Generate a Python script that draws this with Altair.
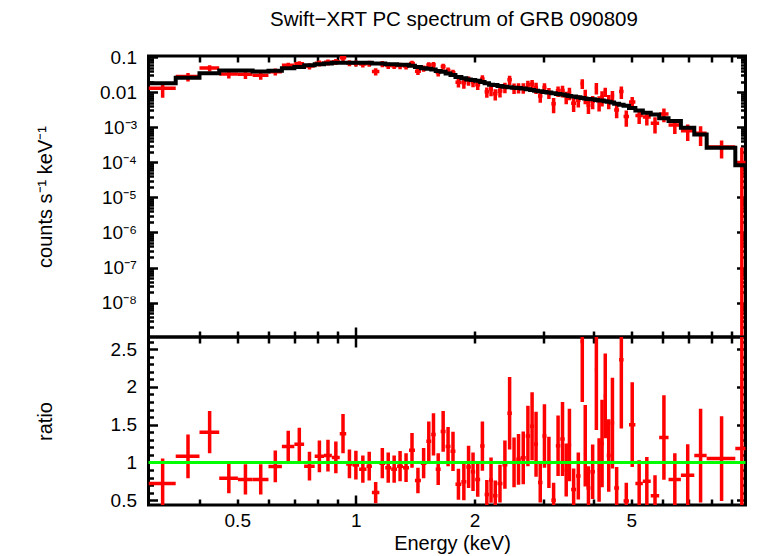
import json
import altair as alt
import pandas as pd

# ---------------- data ----------------
# bin edges (keV), contiguous bins
edges = [0.2977, 0.349, 0.401, 0.450, 0.502, 0.547, 0.600, 0.649, 0.698, 0.739,
         0.786, 0.830, 0.869, 0.910, 0.945, 0.981, 1.019, 1.064, 1.098, 1.147,
         1.187, 1.229, 1.272, 1.317, 1.364, 1.412, 1.462, 1.509, 1.553, 1.594,
         1.641, 1.689, 1.738, 1.789, 1.852, 1.906, 1.957, 2.008, 2.067, 2.121,
         2.177, 2.228, 2.287, 2.354, 2.423, 2.487, 2.552, 2.620, 2.697, 2.767,
         2.832, 2.898, 2.974, 3.044, 3.133, 3.216, 3.301, 3.387, 3.447, 3.517,
         3.620, 3.715, 3.792, 3.846, 3.936, 4.040, 4.111, 4.171, 4.255, 4.330,
         4.431, 4.522, 4.654, 4.777, 4.931, 5.119, 5.347, 5.599, 5.882, 6.213,
         6.678, 7.221, 7.763, 9.177, 9.890]

# folded model (counts s^-1 keV^-1) per bin
model = [0.0178, 0.0256, 0.0347, 0.0414, 0.0414, 0.039, 0.0405, 0.048, 0.052, 0.058,
         0.062, 0.065, 0.069, 0.069, 0.069, 0.069, 0.069, 0.069, 0.065, 0.065,
         0.062, 0.062, 0.060, 0.060, 0.056, 0.052, 0.048, 0.046, 0.044, 0.040,
         0.038, 0.034, 0.031, 0.027, 0.025, 0.023, 0.022, 0.021, 0.0195, 0.0178,
         0.0163, 0.016, 0.015, 0.0143, 0.0137, 0.0133, 0.013, 0.0126, 0.0121, 0.0115,
         0.011, 0.0106, 0.0101, 0.0097, 0.0093, 0.0089, 0.0085, 0.0082, 0.0078, 0.0075,
         0.0072, 0.0068, 0.0066, 0.0064, 0.0063, 0.0060, 0.0058, 0.0058, 0.0055, 0.0053,
         0.0051, 0.0047, 0.0044, 0.0041, 0.0035, 0.0030, 0.0026, 0.0023, 0.0018, 0.0015,
         0.00096, 0.00062, 0.00026, 0.000083]

# data / model ratio per bin and its 1-sigma error
ratio = [0.72, 1.08, 1.40, 0.79, 0.775, 0.775, 0.947, 1.21, 1.24, 0.95,
         1.08, 1.09, 1.066, 1.38, 0.98, 0.965, 0.91, 0.95, 0.60, 0.99,
         0.93, 0.91, 0.95, 0.93, 1.16, 0.76, 0.99, 1.28, 1.37, 0.91,
         1.41, 1.21, 1.146, 0.71, 0.743, 0.94, 0.876, 0.775, 1.216, 0.576,
         0.766, 0.56, 0.72, 0.97, 1.65, 1.0, 1.04, 1.06, 1.35, 1.48,
         1.24, 0.735, 1.35, 1.0, 0.50, 1.22, 1.31, 0.9, 1.23, 0.64,
         0.82, 2.6, 1.22, 0.66, 0.876, 2.23, 0.9, 1.25, 1.88, 1.09,
         1.52, 0.66, 2.36, 0.49, 1.50, 0.72, 0.75, 0.56, 1.33, 0.775,
         0.83, 1.09, 1.05, 1.185]
ratio_err = [0.33, 0.29, 0.28, 0.20, 0.20, 0.20, 0.21, 0.21, 0.22, 0.19,
             0.21, 0.21, 0.21, 0.26, 0.19, 0.19, 0.18, 0.19, 0.14, 0.20,
             0.20, 0.18, 0.20, 0.19, 0.23, 0.17, 0.20, 0.26, 0.28, 0.21,
             0.27, 0.26, 0.26, 0.205, 0.245, 0.28, 0.255, 0.23, 0.325, 0.19,
             0.30, 0.20, 0.25, 0.32, 0.48, 0.33, 0.335, 0.35, 0.40, 0.45,
             0.43, 0.265, 0.42, 0.34, 0.23, 0.40, 0.49, 0.35, 0.48, 0.28,
             0.31, 0.80, 0.54, 0.29, 0.36, 0.80, 0.42, 0.58, 0.56, 0.48,
             0.60, 0.28, 0.91, 0.24, 0.56, 0.31, 0.32, 0.27, 0.56, 0.345,
             0.41, 0.62, 0.56, 2.0]

reference_ratio = [1.0]

x_label_values = [0.5, 1, 2, 5]
rate_label_values = [0.1, 0.01, 1e-3, 1e-4, 1e-5, 1e-6, 1e-7, 1e-8]
rate_label_text = ["0.1", "0.01", "10\u207b\u00b3", "10\u207b\u2074", "10\u207b\u2075",
                   "10\u207b\u2076", "10\u207b\u2077", "10\u207b\u2078"]
ratio_label_values = [0.5, 1, 1.5, 2, 2.5]

TITLE = "Swift\u2212XRT PC spectrum of GRB 090809"
X_TITLE = "Energy (keV)"
Y_TOP_TITLE = "counts s\u207b\u00b9 keV\u207b\u00b9"
Y_BOT_TITLE = "ratio"

# ---------------- layout / style ----------------
W, H1, H2 = 597, 281, 168
FONT = "Liberation Sans"
E_DOMAIN = [0.2977, 9.74]
RATE_DOMAIN = [1.05e-9, 0.107]
RATIO_DOMAIN = [0.436, 2.66]

x_minor = [0.4, 0.5, 0.6, 0.7, 0.8, 0.9, 2, 3, 4, 5, 6, 7, 8, 9]
x_major = [1]
rate_major = [10.0 ** k for k in range(-8, 0)]
rate_minor = [m * 10.0 ** k for k in range(-9, -1) for m in range(2, 10)]
ratio_major = [0.5, 1, 1.5, 2, 2.5]
ratio_minor = [round(0.1 * i, 1) for i in range(5, 27) if i % 5]

# ---------------- tables ----------------
bins = pd.DataFrame({
    "lo": edges[:-1],
    "hi": edges[1:],
    "model": model,
    "ratio": ratio,
    "rerr": ratio_err,
})
bins["ctr"] = (bins["lo"] + bins["hi"]) / 2
bins["rate"] = bins["model"] * bins["ratio"]
bins["rate_lo"] = (bins["model"] * (bins["ratio"] - bins["rerr"])).clip(lower=1e-14)
bins["rate_hi"] = bins["model"] * (bins["ratio"] + bins["rerr"])
bins["r_lo"] = bins["ratio"] - bins["rerr"]
bins["r_hi"] = bins["ratio"] + bins["rerr"]

step = pd.DataFrame({"e": edges, "m": model + [model[-1]]})
one = pd.DataFrame({"one": reference_ratio})

xs = alt.Scale(type="log", domain=E_DOMAIN, nice=False)
ys_top = alt.Scale(type="log", domain=RATE_DOMAIN, nice=False)
ys_bot = alt.Scale(type="linear", domain=RATIO_DOMAIN, nice=False, zero=False)


def tick_axis(orient, offset, values, size):
    return alt.Axis(orient=orient, offset=offset, values=values, tickSize=size,
                    tickWidth=2.5, tickColor="black", ticks=True, labels=False,
                    domain=False, grid=False, title=None)


rate_expr = json.dumps(rate_label_text, ensure_ascii=False) + \
    "[-1 - round(log(datum.value) / LN10)]"

y_top_labels = alt.Axis(orient="left", values=rate_label_values, labelExpr=rate_expr,
                        ticks=False, tickSize=0, domain=False, grid=False,
                        labelPadding=12, labelFontSize=19, title=Y_TOP_TITLE,
                        titleX=-103, titleY=H1 / 2, titleAngle=270,
                        titleAlign="center", titleBaseline="middle",
                        titleFontSize=20, titleFontWeight="normal")
y_bot_labels = alt.Axis(orient="left", values=ratio_label_values, format="~g",
                        ticks=False, tickSize=0, domain=False, grid=False,
                        labelPadding=12, labelFontSize=19, title=Y_BOT_TITLE,
                        titleX=-103, titleY=H2 / 2, titleAngle=270,
                        titleAlign="center", titleBaseline="middle",
                        titleFontSize=20, titleFontWeight="normal")
x_labels = alt.Axis(orient="bottom", values=x_label_values, format="~g",
                    ticks=False, tickSize=0, domain=False, grid=False,
                    labelPadding=6, labelFlush=False, labelFontSize=19,
                    title=X_TITLE, titleX=W / 2 + 5, titleY=44,
                    titleAlign="center", titleBaseline="alphabetic",
                    titleFontSize=20, titleFontWeight="normal")

RED = "#ff0000"

# ---------------- top panel ----------------
t_xerr = alt.Chart(bins).mark_rule(color=RED, strokeWidth=3.5, clip=True).encode(
    x=alt.X("lo:Q", scale=xs, axis=tick_axis("bottom", -H1, x_minor, 6)),
    x2="hi:Q",
    y=alt.Y("rate:Q", scale=ys_top, axis=y_top_labels),
)
t_yerr = alt.Chart(bins).mark_rule(color=RED, strokeWidth=3.5, clip=True).encode(
    x=alt.X("ctr:Q", scale=xs, axis=tick_axis("bottom", -H1, x_major, 10)),
    y=alt.Y("rate_lo:Q", scale=ys_top, axis=tick_axis("right", -W, rate_minor, 5)),
    y2="rate_hi:Q",
)
t_inv1 = alt.Chart(bins).mark_point(opacity=0).encode(
    x=alt.X("ctr:Q", scale=xs, axis=tick_axis("top", -H1, x_minor, 6)),
    y=alt.Y("rate:Q", scale=ys_top, axis=tick_axis("right", -W, rate_major, 9)),
)
t_inv2 = alt.Chart(bins).mark_point(opacity=0).encode(
    x=alt.X("ctr:Q", scale=xs, axis=tick_axis("top", -H1, x_major, 10)),
    y=alt.Y("rate:Q", scale=ys_top, axis=tick_axis("left", -W, rate_minor, 5)),
)
t_model = alt.Chart(step).mark_line(color="black", strokeWidth=4,
                                    interpolate="step-after", clip=True).encode(
    x=alt.X("e:Q", scale=xs, axis=None),
    y=alt.Y("m:Q", scale=ys_top, axis=tick_axis("left", -W, rate_major, 9)),
)

top = alt.layer(t_xerr, t_yerr, t_inv1, t_inv2, t_model).properties(
    width=W, height=H1,
    title=alt.TitleParams(text=TITLE, fontSize=20.5, font=FONT, fontWeight="normal",
                          anchor="middle", frame="group", baseline="alphabetic",
                          offset=2, dx=7, color="black"),
).resolve_axis(x="independent", y="independent")

# ---------------- ratio panel ----------------
b_xerr = alt.Chart(bins).mark_rule(color=RED, strokeWidth=3.5, clip=True).encode(
    x=alt.X("lo:Q", scale=xs, axis=x_labels),
    x2="hi:Q",
    y=alt.Y("ratio:Q", scale=ys_bot, axis=y_bot_labels),
)
b_yerr = alt.Chart(bins).mark_rule(color=RED, strokeWidth=3.5, clip=True).encode(
    x=alt.X("ctr:Q", scale=xs, axis=tick_axis("bottom", -H2, x_minor, 6)),
    y=alt.Y("r_lo:Q", scale=ys_bot, axis=tick_axis("right", -W, ratio_minor, 5)),
    y2="r_hi:Q",
)
b_inv1 = alt.Chart(bins).mark_point(opacity=0).encode(
    x=alt.X("ctr:Q", scale=xs, axis=tick_axis("bottom", -H2, x_major, 10)),
    y=alt.Y("ratio:Q", scale=ys_bot, axis=tick_axis("right", -W, ratio_major, 9)),
)
b_inv2 = alt.Chart(bins).mark_point(opacity=0).encode(
    x=alt.X("ctr:Q", scale=xs, axis=tick_axis("top", -H2, x_minor, 6)),
    y=alt.Y("ratio:Q", scale=ys_bot, axis=tick_axis("left", -W, ratio_minor, 5)),
)
b_inv3 = alt.Chart(bins).mark_point(opacity=0).encode(
    x=alt.X("ctr:Q", scale=xs, axis=tick_axis("top", -H2, x_major, 10)),
    y=alt.Y("ratio:Q", scale=ys_bot, axis=tick_axis("left", -W, ratio_major, 9)),
)
b_one = alt.Chart(one).mark_rule(color="#00ff00", strokeWidth=3).encode(
    y=alt.Y("one:Q", scale=ys_bot, axis=None),
)

bottom = alt.layer(b_xerr, b_yerr, b_inv1, b_inv2, b_inv3, b_one).properties(
    width=W, height=H2,
).resolve_axis(x="independent", y="independent")

chart = alt.vconcat(top, bottom, spacing=0, bounds="flush").resolve_scale(
    x="independent", y="independent"
).resolve_axis(
    x="independent", y="independent"
).properties(
    padding={"left": 25.5, "top": 0, "right": 0, "bottom": 0},
    background="white",
).configure(
    font=FONT,
).configure_view(
    stroke="black", strokeWidth=3,
).configure_axis(
    labelFont=FONT, titleFont=FONT, labelColor="black", titleColor="black",
)

chart.save("out.html", embed_options={"renderer": "svg", "actions": False})
